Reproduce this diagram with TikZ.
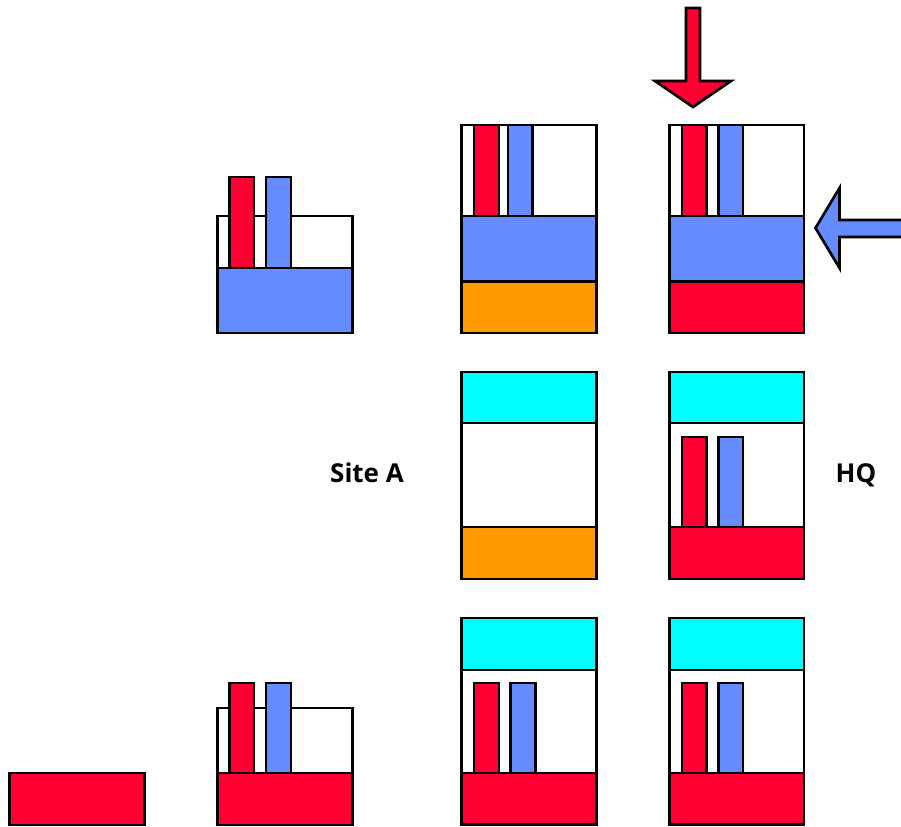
\documentclass[tikz,border=0pt]{standalone}
\usepackage{fontspec}
\setmainfont{Open Sans}
\definecolor{partred}{RGB}{255,0,51}
\definecolor{partblue}{RGB}{100,140,255}
\definecolor{partorange}{RGB}{255,153,0}
\definecolor{partcyan}{RGB}{0,255,255}
\tikzset{
	part/.style={draw=black,line width=2pt,fill=white},
	redpart/.style={part,fill=partred},
	bluepart/.style={part,fill=partblue},
	orangepart/.style={part,fill=partorange},
	cyanpart/.style={part,fill=partcyan},
	sitelabel/.style={anchor=base,font=\bfseries\fontsize{19.5}{20}\selectfont}
}
\begin{document}
\begin{tikzpicture}[x=0.75pt,y=-0.75pt]
	\useasboundingbox (0,0) rectangle (901,826);
	% top row
	\draw[part] (217.5,216) rectangle (352.5,333);
	\draw[redpart] (229.5,177) rectangle (254,268);
	\draw[bluepart] (266,177) rectangle (291,268);
	\draw[bluepart] (217.5,268) rectangle (352.5,333);

	\draw[part] (461.5,125) rectangle (596.5,333);
	\draw[redpart] (474,125) rectangle (499,216);
	\draw[bluepart] (508,125) rectangle (532.5,216);
	\draw[bluepart] (461.5,216) rectangle (596.5,281.5);
	\draw[orangepart] (461.5,281.5) rectangle (596.5,333);

	\draw[part] (669.5,125) rectangle (804,333);
	\draw[redpart] (682,125) rectangle (706.5,216);
	\draw[bluepart] (718.5,125) rectangle (743,216);
	\draw[bluepart] (669.5,216) rectangle (804,281.5);
	\draw[redpart] (669.5,281.5) rectangle (804,333);

	\draw[redpart] (686,8) -- (700,8) -- (700,81) -- (731,81) -- (693,107) -- (655,81) -- (686,81) -- cycle;
	\draw[bluepart] (815.5,228) -- (839.5,188) -- (839.5,220) -- (910,220) -- (910,237) -- (839.5,237) -- (839.5,268) -- cycle;

	% middle row
	\node[sitelabel] (siteA) at (367,482.7) {Site A};
	\draw[part] (461.5,372) rectangle (596.5,579);
	\draw[cyanpart] (461.5,372) rectangle (596.5,423);
	\draw[orangepart] (461.5,527) rectangle (596.5,579);

	\draw[part] (669.5,372) rectangle (804,579);
	\draw[cyanpart] (669.5,372) rectangle (804,423);
	\draw[redpart] (682,437) rectangle (706.5,527);
	\draw[bluepart] (718.5,437) rectangle (743,527);
	\draw[redpart] (669.5,527) rectangle (804,579);
	\node[sitelabel] (hq) at (856,482.7) {HQ};

	% bottom row
	\draw[redpart] (9.5,773) rectangle (144.5,825);

	\draw[part] (217.5,708) rectangle (352.5,825);
	\draw[redpart] (229.5,683) rectangle (254,773);
	\draw[bluepart] (266,683) rectangle (291,773);
	\draw[redpart] (217.5,773) rectangle (352.5,825);

	\draw[part] (461.5,618) rectangle (596.5,824.5);
	\draw[cyanpart] (461.5,618) rectangle (596.5,670);
	\draw[redpart] (474,683) rectangle (499,773);
	\draw[bluepart] (510.5,683) rectangle (535.5,773);
	\draw[redpart] (461.5,773) rectangle (596.5,824.5);

	\draw[part] (669.5,618) rectangle (804,824.5);
	\draw[cyanpart] (669.5,618) rectangle (804,670);
	\draw[redpart] (682,683) rectangle (706.5,773);
	\draw[bluepart] (718.5,683) rectangle (743,773);
	\draw[redpart] (669.5,773) rectangle (804,824.5);
\end{tikzpicture}
\end{document}
